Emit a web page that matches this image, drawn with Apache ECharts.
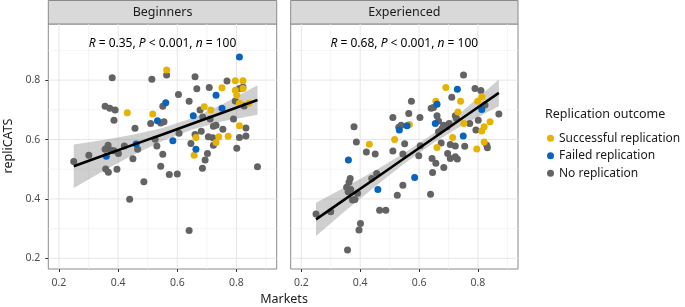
<!DOCTYPE html>
<html>
<head>
<meta charset="utf-8">
<script src="https://cdn.jsdelivr.net/npm/echarts@6/dist/echarts.min.js"></script>
<style>
  html, body { margin: 0; background: #fff; }
  #chart { width: 685px; height: 307px; }
</style>
</head>
<body>
<div id="chart"></div>
<script>
// facet titles + annotations
const panels = ['Beginners', 'Experienced']
const statLabels = [
  '{i|R} = 0.35, {i|P} < 0.001, {i|n} = 100',
  '{i|R} = 0.68, {i|P} < 0.001, {i|n} = 100'
]
const outcomes = ['Successful replication', 'Failed replication', 'No replication']
const colors = ['#e6b400', '#0863bd', '#636363']

const tickValues = [0.2, 0.4, 0.6, 0.8]
const minorBreaks = [0.3, 0.5, 0.7, 0.9]
const xRange = [0.164, 0.936]
const yRange = [0.164, 0.989]

// Beginners: [markets, repliCATS]
const begSuccess = [
  [0.564, 0.834], [0.796, 0.798], [0.822, 0.798], [0.796, 0.766], [0.801, 0.749],
  [0.822, 0.772], [0.751, 0.774], [0.810, 0.722], [0.842, 0.722], [0.691, 0.710],
  [0.713, 0.699], [0.517, 0.686], [0.810, 0.646], [0.663, 0.607], [0.740, 0.609],
  [0.772, 0.611], [0.731, 0.590], [0.657, 0.547], [0.431, 0.690]
]
const begFailed = [
  [0.810, 0.878], [0.731, 0.749], [0.561, 0.724], [0.751, 0.705], [0.654, 0.680],
  [0.533, 0.663], [0.585, 0.596], [0.663, 0.567], [0.461, 0.585], [0.360, 0.544]
]
const begNone = [
  [0.564, 0.817], [0.514, 0.803], [0.660, 0.811], [0.768, 0.797], [0.810, 0.772],
  [0.822, 0.777], [0.708, 0.775], [0.666, 0.771], [0.604, 0.752], [0.640, 0.729],
  [0.551, 0.712], [0.796, 0.730], [0.826, 0.713], [0.677, 0.699], [0.686, 0.676],
  [0.711, 0.669], [0.790, 0.669], [0.544, 0.656], [0.555, 0.660], [0.510, 0.654],
  [0.722, 0.645], [0.731, 0.648], [0.754, 0.635], [0.832, 0.639], [0.681, 0.628],
  [0.606, 0.621], [0.660, 0.617], [0.705, 0.609], [0.720, 0.606], [0.810, 0.607],
  [0.832, 0.612], [0.722, 0.581], [0.525, 0.601], [0.646, 0.587], [0.702, 0.553],
  [0.694, 0.531], [0.551, 0.550], [0.801, 0.571], [0.544, 0.510], [0.871, 0.508],
  [0.685, 0.503], [0.573, 0.482], [0.600, 0.484], [0.380, 0.808], [0.356, 0.712],
  [0.372, 0.705], [0.390, 0.699], [0.386, 0.665], [0.457, 0.638], [0.531, 0.578],
  [0.421, 0.578], [0.466, 0.567], [0.450, 0.535], [0.366, 0.581], [0.356, 0.567],
  [0.376, 0.564], [0.386, 0.562], [0.401, 0.553], [0.301, 0.547], [0.250, 0.526],
  [0.358, 0.501], [0.367, 0.490], [0.396, 0.500], [0.487, 0.458], [0.439, 0.399],
  [0.640, 0.294]
]

// Experienced
const expSuccess = [
  [0.691, 0.775], [0.741, 0.729], [0.799, 0.729], [0.813, 0.744], [0.657, 0.729],
  [0.732, 0.693], [0.841, 0.660], [0.821, 0.643], [0.813, 0.629], [0.567, 0.651],
  [0.752, 0.654], [0.517, 0.600], [0.714, 0.607], [0.661, 0.573], [0.796, 0.568],
  [0.821, 0.592], [0.431, 0.584]
]
const expFailed = [
  [0.730, 0.769], [0.813, 0.701], [0.661, 0.719], [0.533, 0.632], [0.559, 0.646],
  [0.655, 0.654], [0.750, 0.612], [0.360, 0.531], [0.460, 0.432], [0.585, 0.472]
]
const expNone = [
  [0.751, 0.817], [0.790, 0.772], [0.810, 0.765], [0.711, 0.742], [0.824, 0.716],
  [0.871, 0.686], [0.574, 0.729], [0.649, 0.708], [0.641, 0.705], [0.565, 0.688],
  [0.511, 0.674], [0.603, 0.674], [0.723, 0.680], [0.727, 0.671], [0.801, 0.665],
  [0.793, 0.632], [0.531, 0.641], [0.539, 0.648], [0.661, 0.680], [0.666, 0.662],
  [0.683, 0.648], [0.695, 0.643], [0.678, 0.637], [0.666, 0.626], [0.702, 0.654],
  [0.772, 0.654], [0.551, 0.586], [0.511, 0.561], [0.604, 0.579], [0.599, 0.545],
  [0.675, 0.588], [0.706, 0.583], [0.723, 0.578], [0.755, 0.577], [0.830, 0.581],
  [0.832, 0.572], [0.697, 0.553], [0.706, 0.536], [0.723, 0.542], [0.730, 0.534],
  [0.644, 0.536], [0.657, 0.520], [0.684, 0.506], [0.646, 0.489], [0.379, 0.643],
  [0.387, 0.592], [0.421, 0.558], [0.451, 0.551], [0.545, 0.551], [0.366, 0.469],
  [0.362, 0.456], [0.354, 0.439], [0.368, 0.432], [0.359, 0.424], [0.374, 0.396],
  [0.382, 0.398], [0.391, 0.419], [0.456, 0.486], [0.439, 0.469], [0.545, 0.446],
  [0.526, 0.412], [0.466, 0.362], [0.487, 0.362], [0.250, 0.349], [0.300, 0.357],
  [0.401, 0.317], [0.396, 0.295], [0.357, 0.228], [0.639, 0.416]
]

// linear fit and confidence band
const fitX = [0.25, 0.35, 0.45, 0.55, 0.65, 0.75, 0.871]
const begFitY = [0.510, 0.546, 0.582, 0.617, 0.653, 0.689, 0.733]
const begHalfCI = [0.073, 0.052, 0.034, 0.022, 0.019, 0.028, 0.050]
const expFitY = [0.331, 0.400, 0.468, 0.537, 0.605, 0.674, 0.757]
const expHalfCI = [0.056, 0.040, 0.027, 0.018, 0.016, 0.024, 0.045]

const FONT = 'Noto Sans'
const grids = [
  { left: 48.3, top: 24, width: 228.4, height: 245 },
  { left: 290.7, top: 24, width: 227.3, height: 245 }
]
const groups = [
  [begSuccess, begFailed, begNone],
  [expSuccess, expFailed, expNone]
]
const fits = [[begFitY, begHalfCI], [expFitY, expHalfCI]]

function gridLines(params, api) {
  const children = []
  const seg = (a, b, major) => children.push({
    type: 'line',
    shape: { x1: a[0], y1: a[1], x2: b[0], y2: b[1] },
    style: { stroke: major ? '#e6e6e6' : '#f1f1f1', lineWidth: major ? 1 : 0.7 }
  })
  minorBreaks.forEach(v => {
    seg(api.coord([v, yRange[0]]), api.coord([v, yRange[1]]), false)
    seg(api.coord([xRange[0], v]), api.coord([xRange[1], v]), false)
  })
  tickValues.forEach(v => {
    seg(api.coord([v, yRange[0]]), api.coord([v, yRange[1]]), true)
    seg(api.coord([xRange[0], v]), api.coord([xRange[1], v]), true)
  })
  return { type: 'group', children }
}

function bandRenderer(fitY, half) {
  return (params, api) => {
    const pts = []
    fitX.forEach((x, i) => pts.push(api.coord([x, fitY[i] + half[i]])))
    for (let i = fitX.length - 1; i >= 0; i--) {
      pts.push(api.coord([fitX[i], fitY[i] - half[i]]))
    }
    return {
      type: 'polygon',
      shape: { points: pts },
      style: { fill: 'rgba(140,140,140,0.42)' }
    }
  }
}

const xAxis = []
const yAxis = []
const series = []
const graphic = []

grids.forEach((g, k) => {
  xAxis.push({
    type: 'value', gridIndex: k, min: xRange[0], max: xRange[1],
    axisLine: { show: false },
    splitLine: { show: false },
    axisTick: { show: true, length: 3, customValues: tickValues, lineStyle: { color: '#333' } },
    axisLabel: {
      customValues: tickValues, margin: 9, color: '#4d4d4d', fontSize: 10.5, fontFamily: FONT,
      formatter: v => v.toFixed(1)
    }
  })
  yAxis.push({
    type: 'value', gridIndex: k, min: yRange[0], max: yRange[1],
    axisLine: { show: false },
    splitLine: { show: false },
    axisTick: { show: k === 0, length: 3, customValues: tickValues, lineStyle: { color: '#333' } },
    axisLabel: {
      show: k === 0, customValues: tickValues, margin: 8, color: '#4d4d4d', fontSize: 10.5,
      fontFamily: FONT, formatter: v => v.toFixed(1)
    }
  })

  series.push({
    type: 'custom', xAxisIndex: k, yAxisIndex: k, silent: true, z: 0,
    data: [[xRange[0], yRange[0]]], renderItem: gridLines
  })
  series.push({
    type: 'custom', xAxisIndex: k, yAxisIndex: k, silent: true, z: 1,
    data: [[fitX[0], fits[k][0][0]]], renderItem: bandRenderer(fits[k][0], fits[k][1])
  })
  // grey first so coloured points sit on top
  ;[2, 0, 1].forEach(j => {
    series.push({
      name: outcomes[j], type: 'scatter', xAxisIndex: k, yAxisIndex: k, z: 2,
      symbolSize: 7, itemStyle: { color: colors[j], opacity: 1 },
      data: groups[k][j]
    })
  })
  series.push({
    type: 'line', xAxisIndex: k, yAxisIndex: k, z: 3, silent: true,
    showSymbol: false, symbol: 'none',
    lineStyle: { color: '#000', width: 2.6 },
    data: fitX.map((x, i) => [x, fits[k][0][i]])
  })

  // facet strip
  graphic.push({
    type: 'rect', silent: true,
    shape: { x: g.left, y: 0.5, width: g.width, height: 23.5 },
    style: { fill: '#d9d9d9', stroke: '#8a8a8a', lineWidth: 1 }
  })
  graphic.push({
    type: 'text', silent: true, x: g.left + g.width / 2, y: 12.5,
    style: {
      text: panels[k], fontSize: 12.5, fontFamily: FONT, fill: '#1a1a1a',
      textAlign: 'center', textVerticalAlign: 'middle'
    }
  })
  graphic.push({
    type: 'text', silent: true, x: g.left + g.width / 2, y: 43.5, z: 10,
    style: {
      text: statLabels[k], fontSize: 12, fontFamily: FONT, fill: '#000',
      textAlign: 'center', textVerticalAlign: 'middle',
      rich: { i: { fontStyle: 'italic', fontSize: 12, fontFamily: FONT, fill: '#000' } }
    }
  })
})

graphic.push({
  type: 'text', silent: true, x: 8, y: 146, rotation: Math.PI / 2,
  style: {
    text: 'repliCATS', fontSize: 12.5, fontFamily: FONT, fill: '#1a1a1a',
    textAlign: 'center', textVerticalAlign: 'middle'
  }
})
graphic.push({
  type: 'text', silent: true, x: 284, y: 299.5,
  style: {
    text: 'Markets', fontSize: 12.5, fontFamily: FONT, fill: '#1a1a1a',
    textAlign: 'center', textVerticalAlign: 'middle'
  }
})
graphic.push({
  type: 'text', silent: true, x: 545, y: 114,
  style: {
    text: 'Replication outcome', fontSize: 12.5, fontFamily: FONT, fill: '#1a1a1a',
    textAlign: 'left', textVerticalAlign: 'middle'
  }
})

const chart = echarts.init(document.getElementById('chart'), null, { renderer: 'canvas' })
chart.setOption({
  animation: false,
  backgroundColor: '#fff',
  grid: grids.map(g => Object.assign({
    show: true, backgroundColor: '#fff', borderColor: '#8a8a8a', borderWidth: 1
  }, g)),
  xAxis,
  yAxis,
  legend: {
    data: outcomes,
    orient: 'vertical',
    left: 542,
    top: 125.8,
    icon: 'circle',
    itemWidth: 7,
    itemHeight: 7,
    itemGap: 2.5,
    selectedMode: false,
    textStyle: { fontSize: 12, fontFamily: FONT, color: '#1a1a1a', lineHeight: 15 }
  },
  graphic,
  series
})
</script>
</body>
</html>
